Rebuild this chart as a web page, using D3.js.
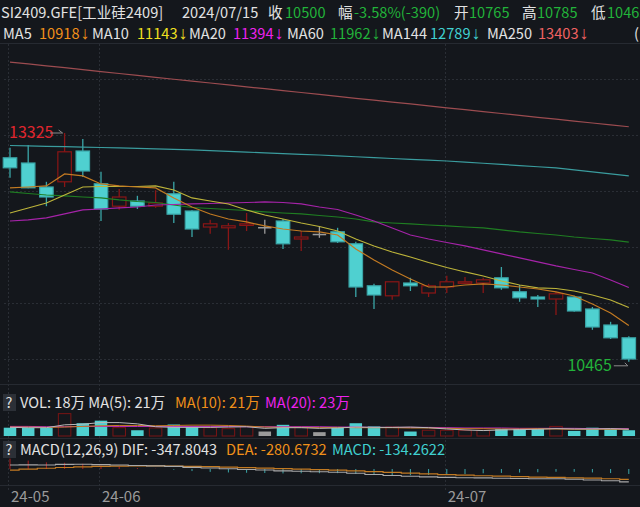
<!DOCTYPE html>
<html>
<head>
<meta charset="utf-8">
<script src="https://cdn.jsdelivr.net/npm/d3@7"></script>
<style>
html, body { margin: 0; padding: 0; background: #14171c; }
svg { display: block; font-family: "Noto Sans CJK SC", "Noto Sans", sans-serif; }
</style>
</head>
<body>
<svg id="chart" width="640" height="507"></svg>
<script>
const dates = ["2024-05-27","2024-05-28","2024-05-29","2024-05-30","2024-05-31",
    "2024-06-03","2024-06-04","2024-06-05","2024-06-06","2024-06-07","2024-06-11","2024-06-12","2024-06-13","2024-06-14",
    "2024-06-17","2024-06-18","2024-06-19","2024-06-20","2024-06-21","2024-06-24","2024-06-25","2024-06-26","2024-06-27","2024-06-28",
    "2024-07-01","2024-07-02","2024-07-03","2024-07-04","2024-07-05","2024-07-08","2024-07-09","2024-07-10","2024-07-11","2024-07-12","2024-07-15"];
const open = [13015,12950,12650,12715,13100,12690,12410,12475,12410,12565,12350,12150,12140,12170,12150,12225,12000,12065,12090,11940,11415,11290,11450,11325,11400,11450,11450,11515,11340,11275,11250,11275,11125,10925,10765];
const high = [13140,13175,12715,13325,13250,12840,12625,12540,12610,12715,12360,12240,12200,12325,12240,12250,12100,12150,12140,11965,11440,11465,11515,11440,11540,11525,11515,11650,11425,11300,11340,11290,11150,10965,10785];
const low = [12765,12635,12410,12650,12775,12225,12365,12375,12390,12200,12025,12065,11865,12100,12065,11875,11850,12015,11950,11275,11125,11240,11350,11275,11325,11440,11325,11365,11215,11150,11050,11090,10865,10750,10465];
const close = [12890,12640,12525,13090,12850,12375,12525,12410,12450,12310,12125,12190,12165,12190,12150,11940,12025,12065,11965,11400,11300,11465,11415,11415,11465,11465,11490,11390,11265,11250,11315,11100,10900,10765,10500];

const ma5 = [12638,12650,12663,12813,12788,12688,12663,12650,12638,12513,12400,12313,12250,12213,12163,12125,12100,12088,12050,11875,11738,11613,11500,11400,11400,11425,11438,11425,11400,11375,11338,11288,11188,11075,10918];
const ma10 = [12325,12388,12450,12550,12650,12656,12656,12656,12663,12613,12513,12475,12438,12363,12300,12250,12200,12156,12100,12000,11913,11838,11775,11706,11644,11588,11538,11475,11425,11388,11381,11350,11300,11238,11143];
const ma20 = [12225,12238,12263,12313,12363,12375,12388,12400,12425,12431,12438,12444,12450,12456,12463,12456,12438,12400,12369,12300,12225,12138,12050,12000,11956,11913,11863,11813,11763,11713,11663,11619,11575,11488,11394];
const ma60 = [12588,12569,12550,12538,12525,12513,12488,12469,12456,12425,12394,12381,12369,12356,12338,12325,12313,12294,12275,12250,12213,12200,12188,12175,12163,12150,12138,12113,12088,12069,12050,12025,12006,11988,11962];
const ma144 = [13169,13164,13159,13154,13149,13144,13138,13132,13126,13120,13113,13104,13095,13086,13077,13068,13059,13050,13039,13028,13017,13006,12995,12985,12975,12961,12947,12933,12918,12903,12888,12863,12838,12813,12789];
const ma250 = [14212,14188,14165,14141,14117,14093,14069,14045,14021,13997,13974,13950,13926,13902,13879,13855,13831,13807,13783,13759,13736,13712,13688,13664,13640,13617,13593,13569,13545,13521,13498,13474,13450,13427,13403];

// volume, in 万 lots
const vol = [26,25,25,70,40,48,26,18,25,36,28,26,23,30,14,35,28,12,26,40,30,28,14,18,18,18,18,22,22,22,30,16,26,22,18];
const volMa5 = [27,26,26,35,37,42,42,38,29,27,27,27,28,29,24,26,26,24,25,28,27,27,28,26,22,19,17,19,20,21,23,22,22,23,21];
const volMa10 = [28,28,27,28,30,32,33,33,32,33,34,34,33,31,28,27,27,26,27,26,26,26,25,25,24,23,23,22,22,23,22,21,21,21,21];
const volMa20 = [30,30,29,29,30,30,30,30,30,30,30,30,30,29,29,29,29,29,28,28,27,27,27,27,26,25,25,25,24,24,24,24,23,23,23];

const dif = [110,112,110,125,130,118,108,95,85,70,45,25,5,-12,-28,-50,-62,-75,-88,-115,-150,-175,-195,-212,-225,-235,-240,-248,-255,-262,-265,-275,-295,-318,-348];
const dea = [-30,-2,20,41,59,71,78,82,82,80,73,64,52,39,26,10,-4,-18,-32,-49,-69,-90,-111,-131,-150,-167,-182,-195,-207,-218,-228,-237,-249,-263,-281];
const macd = [280,228,180,168,142,94,60,26,6,-20,-56,-78,-94,-102,-108,-120,-116,-114,-112,-132,-162,-170,-168,-162,-150,-136,-116,-106,-96,-88,-74,-76,-92,-110,-134];

const svg = d3.select("#chart");
const idx = d3.range(dates.length);

const x = d3.scalePoint().domain(idx).range([10, 628.8]);
const y = d3.scaleLinear().domain([10200, 14450]).range([383, 43]);
const yVol = d3.scaleLinear().domain([0, 72]).range([436, 413]);
const yMacd = d3.scaleLinear().domain([-405, 297]).range([484, 458]);
const bw = 13.5;

const C_UP = "#8a1616", C_DOWN = "#4fd0d0", C_DOWN_LINE = "#3aa6a8", C_FLAT = "#9a9a9a";
const kind = (i) => close[i] > open[i] ? "up" : close[i] < open[i] ? "down" : "flat";
const col = (i) => ({ up: C_UP, down: C_DOWN_LINE, flat: C_FLAT })[kind(i)];

// panel separators
svg.selectAll("line.sep")
    .data([43.5, 384.5, 438.5, 485.5])
    .enter()
    .append("line")
    .attr("x1", 0).attr("x2", 640)
    .attr("y1", (d) => d).attr("y2", (d) => d)
    .attr("stroke", "#262a31")
    .attr("stroke-width", 1);

// dotted grid
svg.selectAll("line.hgrid")
    .data(d3.range(6).map((i) => 79.5 + 56 * i))
    .enter()
    .append("line")
    .attr("x1", 4).attr("x2", 640)
    .attr("y1", (d) => d).attr("y2", (d) => d)
    .attr("stroke", "#2a2e35")
    .attr("stroke-dasharray", "2,2");

const monthStarts = idx.filter((i) => i === 0 || dates[i].slice(0, 7) !== dates[i - 1].slice(0, 7));
svg.selectAll("line.vgrid")
    .data(monthStarts)
    .enter()
    .append("line")
    .attr("x1", (i) => Math.round(x(i)) - 1.5).attr("x2", (i) => Math.round(x(i)) - 1.5)
    .attr("y1", 44).attr("y2", 492)
    .attr("stroke", "#2a2e35")
    .attr("stroke-dasharray", "2,2");

// moving averages on price
const maLine = d3.line().x((d, i) => x(i)).y((d) => y(d));
const maSeries = [
    { v: ma250, c: "#9c4c50" },
    { v: ma144, c: "#3a9c9e" },
    { v: ma60, c: "#1f7d22" },
    { v: ma20, c: "#a523a8" },
    { v: ma10, c: "#bdb43a" },
    { v: ma5, c: "#c27a22" },
];

// candles
const candles = svg.append("g").selectAll("g").data(idx).enter().append("g");
candles.append("line")
    .attr("x1", (i) => x(i)).attr("x2", (i) => x(i))
    .attr("y1", (i) => y(high[i])).attr("y2", (i) => y(low[i]))
    .attr("stroke", col)
    .attr("stroke-width", 1.3);
candles.append("rect")
    .attr("x", (i) => x(i) - bw / 2)
    .attr("width", bw)
    .attr("y", (i) => y(Math.max(open[i], close[i])))
    .attr("height", (i) => Math.max(1.5, Math.abs(y(open[i]) - y(close[i]))))
    .attr("fill", (i) => kind(i) === "down" ? C_DOWN : kind(i) === "up" ? "#14171c" : C_FLAT)
    .attr("stroke", col)
    .attr("stroke-width", (i) => kind(i) === "flat" ? 0 : 1.2);

svg.append("g").selectAll("path")
    .data(maSeries)
    .enter()
    .append("path")
    .attr("d", (d) => maLine(d.v))
    .attr("fill", "none")
    .attr("stroke", (d) => d.c)
    .attr("stroke-width", 1.2);

// high / low markers
const hi = d3.maxIndex(high), lo = d3.minIndex(low);
svg.append("text").attr("x", 9).attr("y", y(high[hi]) + 5)
    .attr("fill", "#e0262e").attr("font-size", 16).text(high[hi]);
svg.append("path")
    .attr("d", `M50,${y(high[hi])}H${x(hi) - 2}M${x(hi) - 6},${y(high[hi]) - 3}L${x(hi) - 2},${y(high[hi])}`)
    .attr("stroke", "#8a8a8a").attr("fill", "none");
svg.append("text").attr("x", x(lo) - 17).attr("y", y(low[lo]) + 9)
    .attr("text-anchor", "end")
    .attr("fill", "#22b33a").attr("font-size", 16).text(low[lo]);
svg.append("path")
    .attr("d", `M${x(lo) - 15},${y(low[lo]) + 4}H${x(lo) - 1}L${x(lo) - 4},${y(low[lo]) + 1}`)
    .attr("stroke", "#8a8a8a").attr("fill", "none");

// volume
svg.append("g").selectAll("rect")
    .data(idx)
    .enter()
    .append("rect")
    .attr("x", (i) => x(i) - bw / 2 + 0.5)
    .attr("width", bw - 1)
    .attr("y", (i) => yVol(vol[i]))
    .attr("height", (i) => yVol(0) - yVol(vol[i]))
    .attr("fill", (i) => kind(i) === "up" ? "none" : kind(i) === "down" ? C_DOWN : C_FLAT)
    .attr("stroke", (i) => kind(i) === "up" ? "#7a1414" : "none");

const volLine = d3.line().x((d, i) => x(i)).y((d) => yVol(d));
svg.append("g").selectAll("path")
    .data([{ v: volMa20, c: "#c02ac6" }, { v: volMa10, c: "#c27a22" }, { v: volMa5, c: "#b8b8b8" }])
    .enter()
    .append("path")
    .attr("d", (d) => volLine(d.v))
    .attr("fill", "none")
    .attr("stroke", (d) => d.c)
    .attr("stroke-width", 1);

// macd
svg.append("g").selectAll("line")
    .data(idx)
    .enter()
    .append("line")
    .attr("x1", (i) => x(i)).attr("x2", (i) => x(i))
    .attr("y1", yMacd(0)).attr("y2", (i) => yMacd(macd[i]))
    .attr("stroke", (i) => macd[i] >= 0 ? "#b01c1c" : "#3aa6a8")
    .attr("stroke-width", 1);
const macdLine = d3.line().x((d, i) => x(i)).y((d) => yMacd(d)).curve(d3.curveStep);
svg.append("path").attr("d", macdLine(dea)).attr("fill", "none").attr("stroke", "#c27a22").attr("stroke-width", 1.2);
svg.append("path").attr("d", macdLine(dif)).attr("fill", "none").attr("stroke", "#a8a8a8").attr("stroke-width", 1.1);

// month labels
svg.selectAll("text.month")
    .data(monthStarts)
    .enter()
    .append("text")
    .attr("x", (i) => x(i) + 1)
    .attr("y", 502)
    .attr("fill", "#9a9a9a")
    .attr("font-size", 15)
    .text((i) => dates[i].slice(2, 7));

// header texts
const fmtDelta = (close[34] - 10890);
function pieces(yPos, list, size) {
    const g = svg.append("g");
    list.forEach((p) => {
        const t = g.append("text").attr("x", p[0]).attr("y", yPos)
            .attr("fill", p[2]).attr("font-size", size || 15);
        const s = String(p[1]);
        if (s.endsWith("↓")) {
            t.append("tspan").text(s.slice(0, -1));
            t.append("tspan").attr("font-family", "Liberation Sans").attr("font-size", 18).attr("dx", 1).text("↓");
        } else {
            t.text(s);
        }
    });
}
const W = "#e2e2e2", G = "#22b33a";
pieces(18, [
    [1, "SI2409.GFE[工业硅2409]", W],
    [182, "2024/07/15", W],
    [268, "收", W], [285, close[34], G],
    [338, "幅", W], [354, "-3.58%(" + fmtDelta + ")", G],
    [454, "开", W], [469, open[34], G],
    [522, "高", W], [537, high[34], G],
    [591, "低", W], [607, low[34], G],
], 14.6);
const last = ma5.length - 1;
pieces(39, [
    [3, "MA5", W], [39, ma5[last] + "↓", "#f0901a"],
    [92, "MA10", W], [137, ma10[last] + "↓", "#f0e020"],
    [189, "MA20", W], [233, ma20[last] + "↓", "#ee22ee"],
    [287, "MA60", W], [330, ma60[last] + "↓", G],
    [382, "MA144", W], [430, ma144[last] + "↓", "#40d0d0"],
    [487, "MA250", W], [538, ma250[last] + "↓", "#f06262"],
    [634, "(", W],
], 14.6);

// help boxes
[394, 441].forEach((t) => {
    svg.append("rect").attr("x", 3).attr("y", t).attr("width", 13).attr("height", 17).attr("fill", "#2c3037");
    svg.append("text").attr("x", 5.5).attr("y", t + 14).attr("fill", W).attr("font-size", 14.5).text("?");
});
pieces(408, [
    [20, "VOL: " + vol[last] + "万 MA(5): " + volMa5[last] + "万", W],
    [175, "MA(10): " + volMa10[last] + "万", "#f0901a"],
    [265, "MA(20): " + volMa20[last] + "万", "#ee22ee"],
], 14.6);
pieces(455, [
    [20, "MACD(12,26,9) DIF: -347.8043", W],
    [226, "DEA: -280.6732", "#f0901a"],
    [332, "MACD: -134.2622", "#40d0d0"],
], 14.6);
</script>
</body>
</html>
